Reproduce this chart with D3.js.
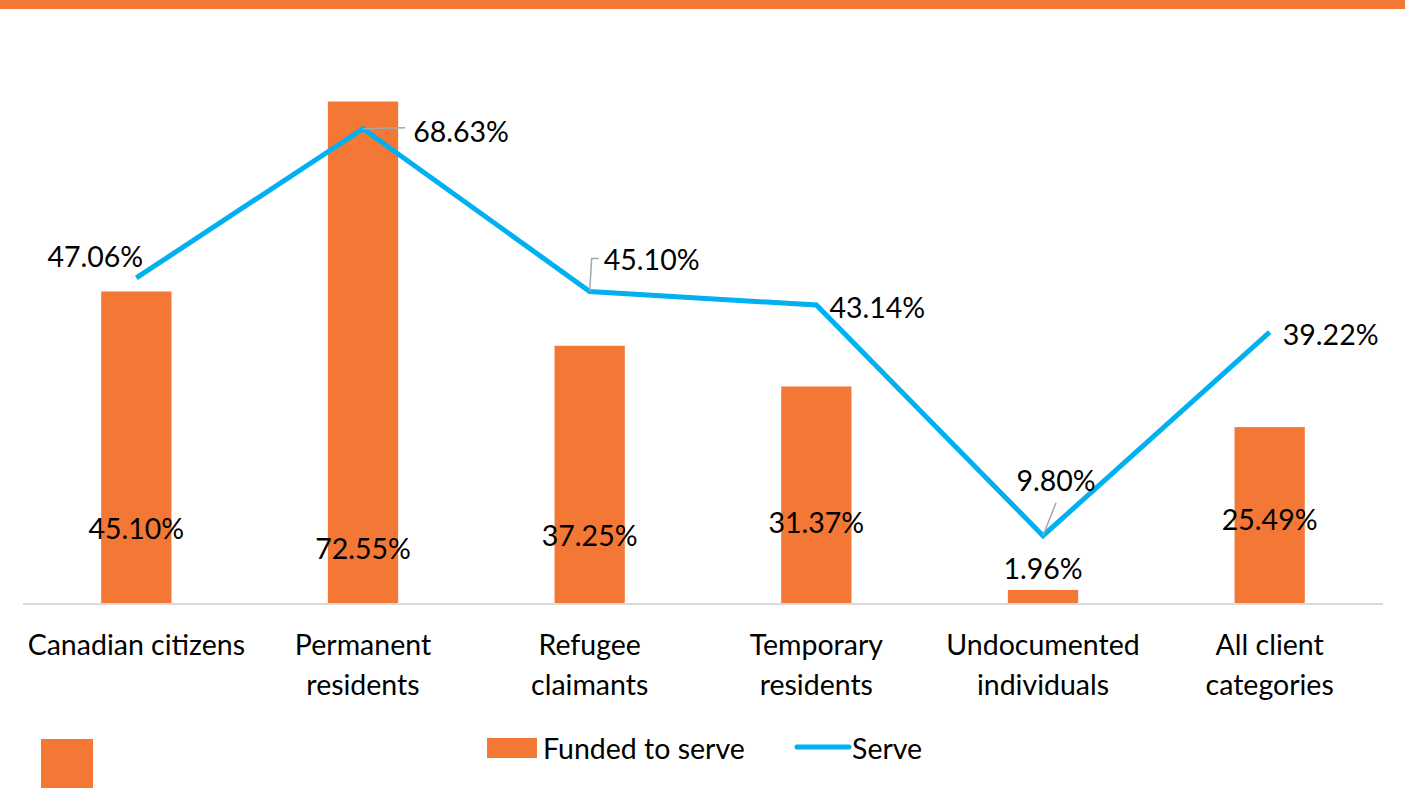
<!DOCTYPE html>
<html>
<head>
<meta charset="utf-8">
<script src="https://cdn.jsdelivr.net/npm/d3@7"></script>
<style>
  body { margin: 0; background: #fff; }
  svg text { font-family: Lato, "Open Sans", sans-serif; fill: #000; }
</style>
</head>
<body>
<script>
const categories = [
  ['Canadian citizens'],
  ['Permanent', 'residents'],
  ['Refugee', 'claimants'],
  ['Temporary', 'residents'],
  ['Undocumented', 'individuals'],
  ['All client', 'categories']
];
const funded = [45.10, 72.55, 37.25, 31.37, 1.96, 25.49];
const serve = [47.06, 68.63, 45.10, 43.14, 9.80, 39.22];

// label placement (Excel moved some of these by hand)
const fundedLabelY = [528, 548, 535, 522, 568, 519];
const serveLabelPos = [[-41, -22], [98, 2], [62, -32], [61, 2], [13, -56], [61, 2]];

const width = 1405,
  height = 788;
const orange = '#F37735',
  blue = '#00B0F0';
const fs = 28.5;

const svg = d3.select('body').append('svg')
  .attr('width', width)
  .attr('height', height);

// top band
svg.append('rect').attr('x', 0).attr('y', 0).attr('width', width).attr('height', 9).attr('fill', orange);

const x = d3.scaleBand()
  .domain(d3.range(categories.length))
  .range([23, 1383])
  .paddingInner(0.69)
  .paddingOuter(0.345);

const y = d3.scaleLinear().domain([0, 80]).range([603.5, 50]);

const cx = i => x(i) + x.bandwidth() / 2;

svg.selectAll('.bar')
  .data(funded)
  .enter()
  .append('rect')
  .attr('class', 'bar')
  .attr('x', (d, i) => x(i))
  .attr('y', d => y(d))
  .attr('width', x.bandwidth())
  .attr('height', d => y(0) - y(d))
  .attr('fill', orange);

// baseline
svg.append('line')
  .attr('x1', 23).attr('x2', 1383)
  .attr('y1', y(0) + 0.5).attr('y2', y(0) + 0.5)
  .attr('stroke', '#d9d9d9').attr('stroke-width', 2);

// category labels
const cat = svg.selectAll('.cat')
  .data(categories)
  .enter()
  .append('text')
  .attr('class', 'cat')
  .attr('text-anchor', 'middle')
  .attr('font-size', fs)
  .attr('x', (d, i) => cx(i))
  .attr('y', 655);
cat.selectAll('tspan')
  .data(d => d)
  .enter()
  .append('tspan')
  .attr('x', function () { return d3.select(this.parentNode).attr('x'); })
  .attr('dy', (d, i) => i === 0 ? 0 : 40)
  .text(d => d);

// serve line
const line = d3.line().x((d, i) => cx(i)).y(d => y(d));
svg.append('path')
  .datum(serve)
  .attr('d', line)
  .attr('fill', 'none')
  .attr('stroke', blue)
  .attr('stroke-width', 5);

// leader lines
const leaders = [
  [[cx(1), y(serve[1])], [cx(1) + 42, y(serve[1]) - 1]],
  [[cx(2), y(serve[2])], [cx(2) + 2, y(serve[2]) - 33], [cx(2) + 9, y(serve[2]) - 33]],
  [[cx(4), y(serve[4])], [cx(4) + 13, y(serve[4]) - 33]]
];
svg.selectAll('.leader')
  .data(leaders)
  .enter()
  .append('path')
  .attr('class', 'leader')
  .attr('d', d3.line())
  .attr('fill', 'none')
  .attr('stroke', '#a6a6a6')
  .attr('stroke-width', 1.5);

// serve labels
svg.selectAll('.slabel')
  .data(serve)
  .enter()
  .append('text')
  .attr('class', 'slabel')
  .attr('text-anchor', 'middle')
  .attr('dominant-baseline', 'central')
  .attr('font-size', fs)
  .attr('x', (d, i) => cx(i) + serveLabelPos[i][0])
  .attr('y', (d, i) => y(d) + serveLabelPos[i][1])
  .text(d => d.toFixed(2) + '%');

// funded labels
svg.selectAll('.flabel')
  .data(funded)
  .enter()
  .append('text')
  .attr('class', 'flabel')
  .attr('text-anchor', 'middle')
  .attr('dominant-baseline', 'central')
  .attr('font-size', fs)
  .attr('x', (d, i) => cx(i))
  .attr('y', (d, i) => fundedLabelY[i])
  .text(d => d.toFixed(2) + '%');

// legend
const legend = svg.append('g');
legend.append('rect').attr('x', 487).attr('y', 738).attr('width', 50).attr('height', 20).attr('fill', orange);
legend.append('text').attr('x', 543).attr('y', 748).attr('dominant-baseline', 'central').attr('font-size', fs).text('Funded to serve');
legend.append('line').attr('x1', 797).attr('x2', 849).attr('y1', 747).attr('y2', 747)
  .attr('stroke', blue).attr('stroke-width', 5).attr('stroke-linecap', 'round');
legend.append('text').attr('x', 852).attr('y', 748).attr('dominant-baseline', 'central').attr('font-size', fs).text('Serve');

// stray swatch bottom left
svg.append('rect').attr('x', 41).attr('y', 739).attr('width', 52).attr('height', 50).attr('fill', orange);
</script>
</body>
</html>
